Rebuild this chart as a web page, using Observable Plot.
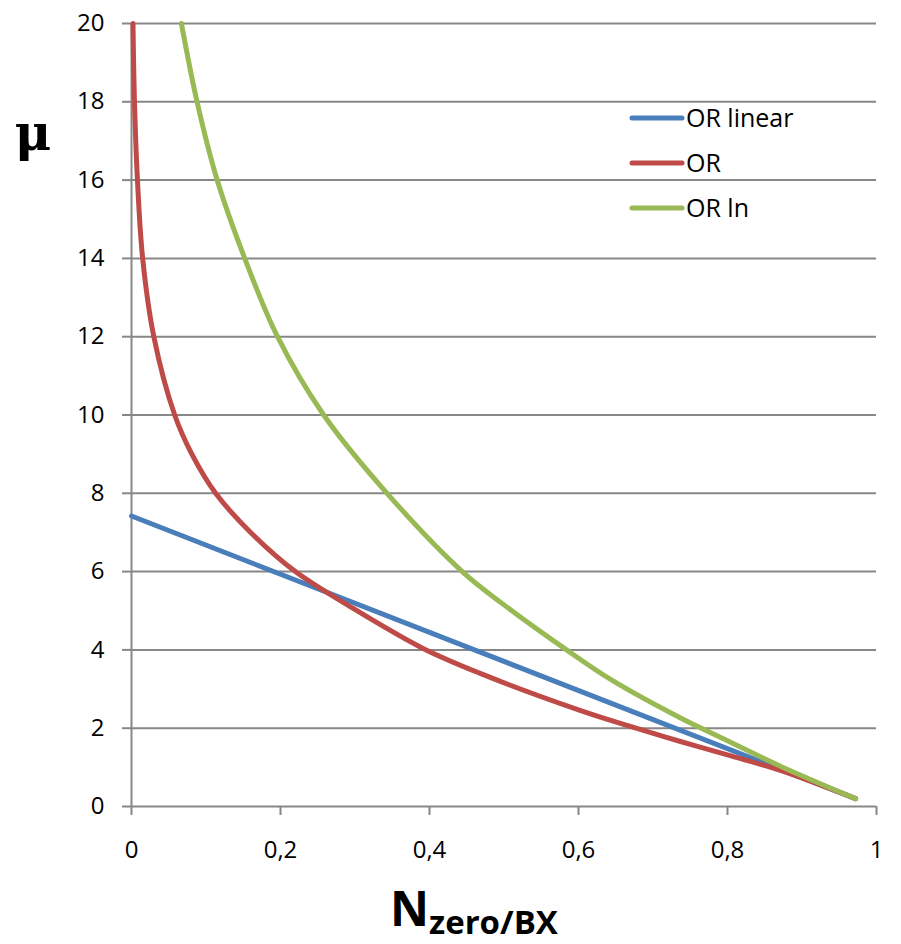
<!DOCTYPE html>
<html>
<head>
<meta charset="utf-8">
<script src="https://cdn.jsdelivr.net/npm/d3@7"></script>
<script src="https://cdn.jsdelivr.net/npm/@observablehq/plot@0.6"></script>
<style>
  html, body { margin: 0; padding: 0; background: #fff; }
  #chart { width: 901px; height: 944px; }
</style>
</head>
<body>
<div id="chart"></div>
<script>
// ---- data ----
const xTicks = [0, 0.2, 0.4, 0.6, 0.8, 1];
const yTicks = [0, 2, 4, 6, 8, 10, 12, 14, 16, 18, 20];

const seriesNames = ["OR linear", "OR", "OR ln"];
const seriesColors = ["#4A7EBB", "#BE4B48", "#98B954"];

const linearX = [0, 0.972];
const linearY = [7.42, 0.2];

const orX = [0.002, 0.004, 0.008, 0.015, 0.030, 0.058, 0.081, 0.113, 0.160, 0.220, 0.294, 0.390, 0.468, 0.603, 0.674, 0.737, 0.800, 0.871, 0.972];
const orY = [20, 18, 16, 14, 12, 10, 9, 8, 7, 6, 5.1, 4.05, 3.4, 2.45, 2.02, 1.66, 1.32, 0.92, 0.2];

const lnX = [0.067, 0.088, 0.115, 0.152, 0.196, 0.258, 0.343, 0.444, 0.500, 0.584, 0.647, 0.737, 0.800, 0.871, 0.972];
const lnY = [20, 18, 16, 14, 12, 10, 8, 6, 5.15, 4, 3.2, 2.26, 1.68, 1.03, 0.2];

// ---- build table ----
const rows = [];
[[linearX, linearY], [orX, orY], [lnX, lnY]].forEach(([xs, ys], i) => {
  xs.forEach((x, j) => rows.push({series: seriesNames[i], x, y: ys[j]}));
});

const gray = "#878787";
const font = "'Open Sans', sans-serif";

const plot = Plot.plot({
  width: 901,
  height: 944,
  marginLeft: 131,
  marginRight: 25,
  marginTop: 23,
  marginBottom: 138,
  style: {fontFamily: font, fontSize: "24px", background: "#fff", color: "#000"},
  x: {domain: [0, 1]},
  y: {domain: [0, 20]},
  color: {domain: seriesNames, range: seriesColors},
  marks: [
    Plot.ruleY(yTicks, {stroke: gray, strokeWidth: 2}),
    Plot.ruleX([0], {stroke: gray, strokeWidth: 2}),
    Plot.axisX({ticks: xTicks, tickSize: 9, tickPadding: 25, stroke: gray, strokeWidth: 2,
      tickFormat: d => String(d).replace(".", ","), label: null, fontSize: 24}),
    Plot.axisY({ticks: yTicks, tickSize: 9, tickPadding: 18, stroke: gray, strokeWidth: 2,
      label: null, fontSize: 24}),
    Plot.line(rows, {x: "x", y: "y", z: "series", stroke: "series", strokeWidth: 5,
      curve: "catmull-rom", strokeLinecap: "round", strokeLinejoin: "round"})
  ]
});
document.getElementById("chart").appendChild(plot);

// ---- legend, axis titles ----
const svg = d3.select(plot);
const legendY = [118, 163, 208];
const lg = svg.append("g");
seriesNames.forEach((name, i) => {
  lg.append("line").attr("x1", 632).attr("x2", 682).attr("y1", legendY[i]).attr("y2", legendY[i])
    .attr("stroke", seriesColors[i]).attr("stroke-width", 5).attr("stroke-linecap", "round");
  lg.append("text").attr("x", 686).attr("y", legendY[i]).attr("dy", "0.35em")
    .attr("text-anchor", "start")
    .attr("font-family", font).attr("font-size", 25).attr("fill", "#000").text(name);
});

svg.append("text").attr("x", 33).attr("y", 150).attr("text-anchor", "middle")
  .attr("font-family", "'DejaVu Serif', serif").attr("font-weight", "bold").attr("font-size", 50)
  .attr("fill", "#000").text("μ");

const xl = svg.append("text").attr("x", 390).attr("y", 926).attr("text-anchor", "start")
  .attr("font-family", "'Open Sans', sans-serif").attr("font-weight", "bold").attr("fill", "#000");
xl.append("tspan").attr("font-size", 48).text("N");
xl.append("tspan").attr("font-size", 33).attr("dy", 8).text("zero/BX");
</script>
</body>
</html>
